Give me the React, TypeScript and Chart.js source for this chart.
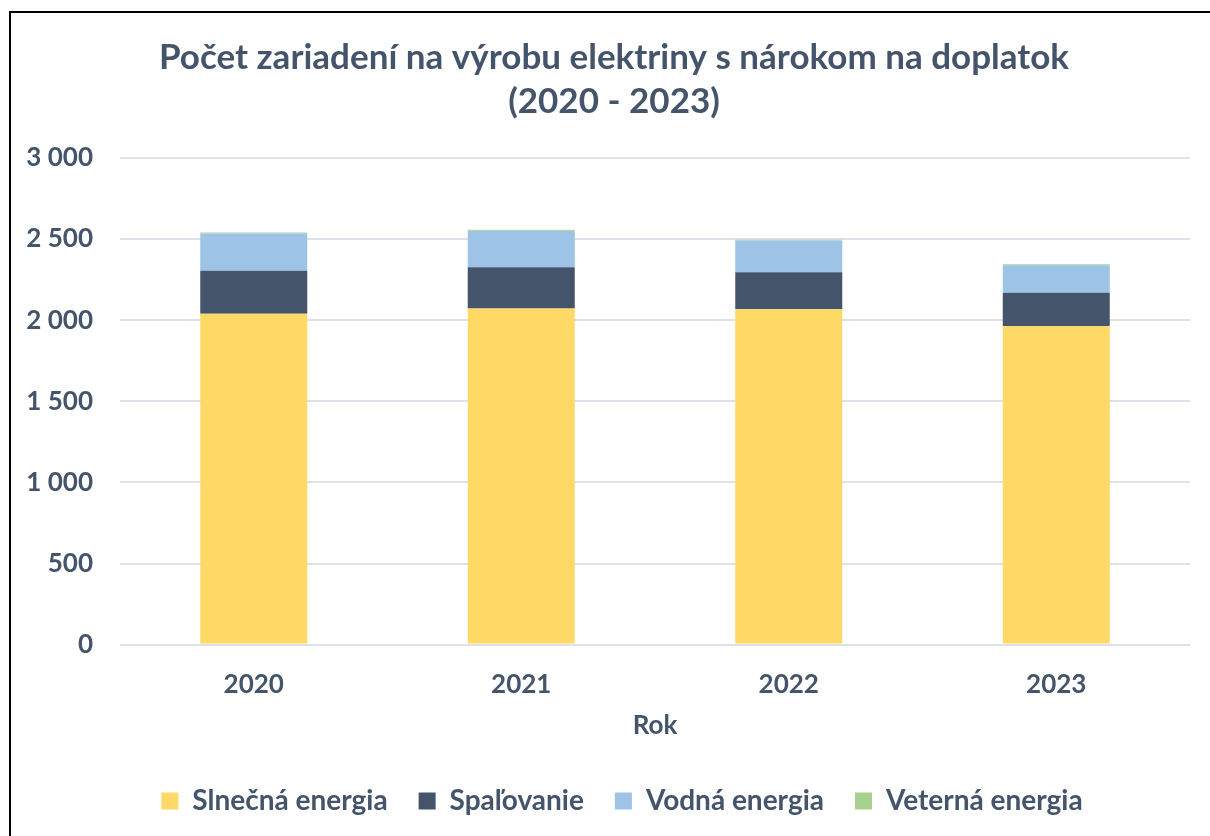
import React, { useEffect, useRef } from "react";
import { Chart, registerables } from "chart.js";

Chart.register(...registerables);

const years = ["2020", "2021", "2022", "2023"];
const slnecna = [2040, 2072, 2068, 1963];
const spalovanie = [265, 255, 228, 206];
const vodna = [230, 224, 195, 170];
const veterna = [6, 6, 5, 6];
const seriesNames = ["Slnečná energia", "Spaľovanie", "Vodná energia", "Veterná energia"];
const seriesColors = ["#FFD966", "#44546A", "#9DC3E6", "#A9D18E"];
const titleLines = ["Počet zariadení na výrobu elektriny s nárokom na doplatok", "(2020 - 2023)"];
const xAxisTitle = "Rok";
const yMin = 0;
const yMax = 3000;
const yStep = 500;

const TEXT = "#44546A";
const FONT = "Lato";

function fmt(v: number): string {
  return String(v).replace(/\B(?=(\d{3})+(?!\d))/g, " ");
}

// nudges the title and legend blocks sideways, as in the original layout
const shiftBlocks = {
  id: "shiftBlocks",
  afterLayout(chart: any) {
    const t = chart.titleBlock;
    if (t) {
      t.left += 13;
      t.right += 13;
    }
    const l = chart.legend;
    if (l) {
      l.left += 21;
      l.right += 21;
    }
  },
};

export default function App() {
  const ref = useRef<HTMLCanvasElement | null>(null);
  useEffect(() => {
    if (!ref.current) return;
    const values = [slnecna, spalovanie, vodna, veterna];
    const chart = new Chart(ref.current, {
      type: "bar",
      data: {
        labels: years,
        datasets: values.map((d, i) => ({
          label: seriesNames[i],
          data: d,
          backgroundColor: seriesColors[i],
          borderWidth: 0,
          categoryPercentage: 1,
          barPercentage: 0.4,
        })),
      },
      plugins: [shiftBlocks],
      options: {
        animation: false,
        responsive: true,
        maintainAspectRatio: false,
        layout: { padding: { left: 0, right: 32, top: 0, bottom: 11 } },
        plugins: {
          tooltip: { enabled: false },
          title: {
            display: true,
            text: titleLines,
            color: TEXT,
            font: { family: FONT, size: 35, weight: "bold", lineHeight: 1.243 },
            padding: { top: 22, bottom: 35 },
          },
          legend: {
            position: "bottom",
            labels: {
              color: TEXT,
              boxWidth: 17,
              boxHeight: 17,
              padding: 31,
              font: { family: FONT, size: 28, weight: "bold" },
            },
          },
        },
        scales: {
          x: {
            stacked: true,
            grid: { display: false, drawTicks: false },
            border: { display: false },
            ticks: {
              color: TEXT,
              padding: 24,
              font: { family: FONT, size: 26, weight: "bold" },
            },
            title: {
              display: true,
              text: xAxisTitle,
              color: TEXT,
              font: { family: FONT, size: 26, weight: "bold" },
              padding: { top: -14, bottom: 15 },
            },
          },
          y: {
            stacked: true,
            min: yMin,
            max: yMax,
            afterFit: (scale: any) => {
              scale.width = 108;
            },
            grid: { color: "#DDE1EA", lineWidth: 2, drawTicks: false },
            border: { display: false },
            ticks: {
              stepSize: yStep,
              color: TEXT,
              padding: 27,
              font: { family: FONT, size: 26, weight: "bold" },
              callback: (v: any) => fmt(Number(v)),
            },
          },
        },
      },
    });
    return () => chart.destroy();
  }, []);

  return (
    <div style={{ position: "fixed", inset: 0, overflow: "hidden", background: "#fff" }}>
      <div
        style={{
          position: "absolute",
          left: 9,
          top: 11,
          width: 1240,
          height: 860,
          borderLeft: "2px solid #000",
          borderTop: "2px solid #000",
        }}
      />
      <div style={{ position: "absolute", left: 12, top: 14, width: 1210, height: 822 }}>
        <canvas ref={ref} />
      </div>
    </div>
  );
}
